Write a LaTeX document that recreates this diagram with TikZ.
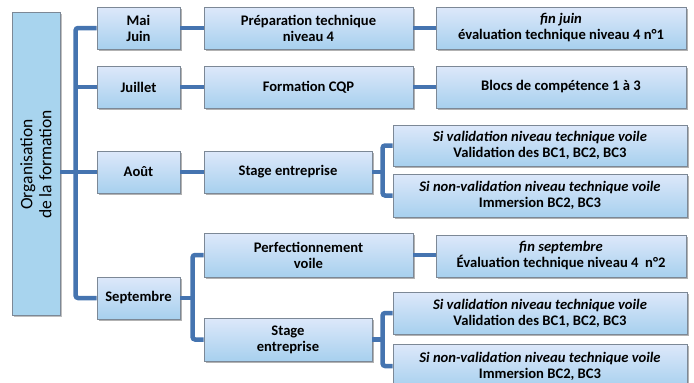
\documentclass[tikz,border=0pt]{standalone}
\usepackage{fontspec}
\setmainfont{Carlito}
\usetikzlibrary{shadows}
\definecolor{conn}{HTML}{4574B0}
\definecolor{boxtop}{HTML}{DDE8FA}
\definecolor{boxbot}{HTML}{A7D0EE}
\definecolor{boxline}{HTML}{7C8896}
\definecolor{rootfill}{HTML}{A8D4EE}
\tikzset{
  box/.style={draw=boxline, line width=0.8pt, top color=boxtop, bottom color=boxbot,
    align=center, font=\fontsize{14.6}{16}\selectfont\bfseries, inner sep=1pt,
    drop shadow={shadow xshift=2pt, shadow yshift=-2pt, opacity=0.3, fill=black}},
  rootbox/.style={draw=boxline, line width=0.8pt, fill=rootfill, align=center,
    drop shadow={shadow xshift=2pt, shadow yshift=-2pt, opacity=0.25, fill=black}},
  conn/.style={draw=conn, line width=4.5pt, rounded corners=2.5pt},
}
\begin{document}
\begin{tikzpicture}[x=1pt, y=-1pt]
\useasboundingbox (0,0) rectangle (694,383);
% root
\node[rootbox, minimum width=48pt, minimum height=303pt] (root) at (36,163.5) {};
\node[rotate=90, align=center, font=\fontsize{17.5}{19}\selectfont] (roottxt) at ([yshift=-1pt]root.center) {Organisation\\de la formation};
% level 1
\node[box, minimum width=83pt, minimum height=42pt] (mai) at (138.5,28) {Mai\\Juin};
\node[box, minimum width=83pt, minimum height=42pt] (juil) at (138.5,87) {Juillet};
\node[box, minimum width=83pt, minimum height=42pt] (aout) at (138.5,172) {Août};
\node[box, minimum width=83pt, minimum height=42pt] (sept) at (138.5,298) {Septembre};
% level 2
\node[box, minimum width=209pt, minimum height=42pt] (prep) at (308.5,28) {Préparation technique\\niveau 4};
\node[box, minimum width=209pt, minimum height=42pt] (cqp) at (308.5,87) {Formation CQP};
\node[box, minimum width=168pt, minimum height=42pt] (stage1) at (288,172) {Stage entreprise};
\node[box, minimum width=209pt, minimum height=44pt] (perf) at (308.5,255) {Perfectionnement\\voile};
\node[box, minimum width=168pt, minimum height=43pt] (stage2) at (288,339.5) {Stage\\entreprise};
% level 3
\node[box, minimum width=250pt, minimum height=42pt] (finjuin) at (561,28) {\textit{fin juin}\\évaluation technique niveau 4 n°1};
\node[box, minimum width=250pt, minimum height=42pt] (blocs) at (561,87) {Blocs de compétence 1 à 3};
\node[box, minimum width=294pt, minimum height=41pt] (val1) at (540,145.5) {\textit{Si validation niveau technique voile}\\Validation des BC1, BC2, BC3};
\node[box, minimum width=294pt, minimum height=43pt] (nonval1) at (540,195.5) {\textit{Si non-validation niveau technique voile}\\Immersion BC2, BC3};
\node[box, minimum width=250pt, minimum height=42pt] (finsept) at (561,256) {\textit{fin septembre}\\Évaluation technique niveau 4~~n°2};
\node[box, minimum width=294pt, minimum height=42pt] (val2) at (540,313) {\textit{Si validation niveau technique voile}\\Validation des BC1, BC2, BC3};
\node[box, minimum width=294pt, minimum height=44pt] (nonval2) at (540,366) {\textit{Si non-validation niveau technique voile}\\Immersion BC2, BC3};
% connectors
\draw[conn] (mai.west) -- ++(-21,0) |- (sept.west);
\draw[conn] (juil.west) -- ++(-21.5,0);
\draw[conn] (aout.west) -- (root.east |- aout.west);
\draw[conn] (mai.east) -- (prep.west);
\draw[conn] (prep.east) -- (finjuin.west);
\draw[conn] (juil.east) -- (cqp.west);
\draw[conn] (cqp.east) -- (blocs.west);
\draw[conn] (aout.east) -- (stage1.west);
\draw[conn] (stage1.east) -- ++(11,0);
\draw[conn] (val1.west) -- ++(-10,0) |- (nonval1.west);
\draw[conn] (sept.east) -- ++(13,0);
\draw[conn] (perf.west) -- ++(-11,0) |- (stage2.west);
\draw[conn] (perf.east) -- (perf.east -| finsept.west);
\draw[conn] (stage2.east) -- ++(11,0);
\draw[conn] (val2.west) -- ++(-10,0) |- (nonval2.west);
\end{tikzpicture}
\end{document}
